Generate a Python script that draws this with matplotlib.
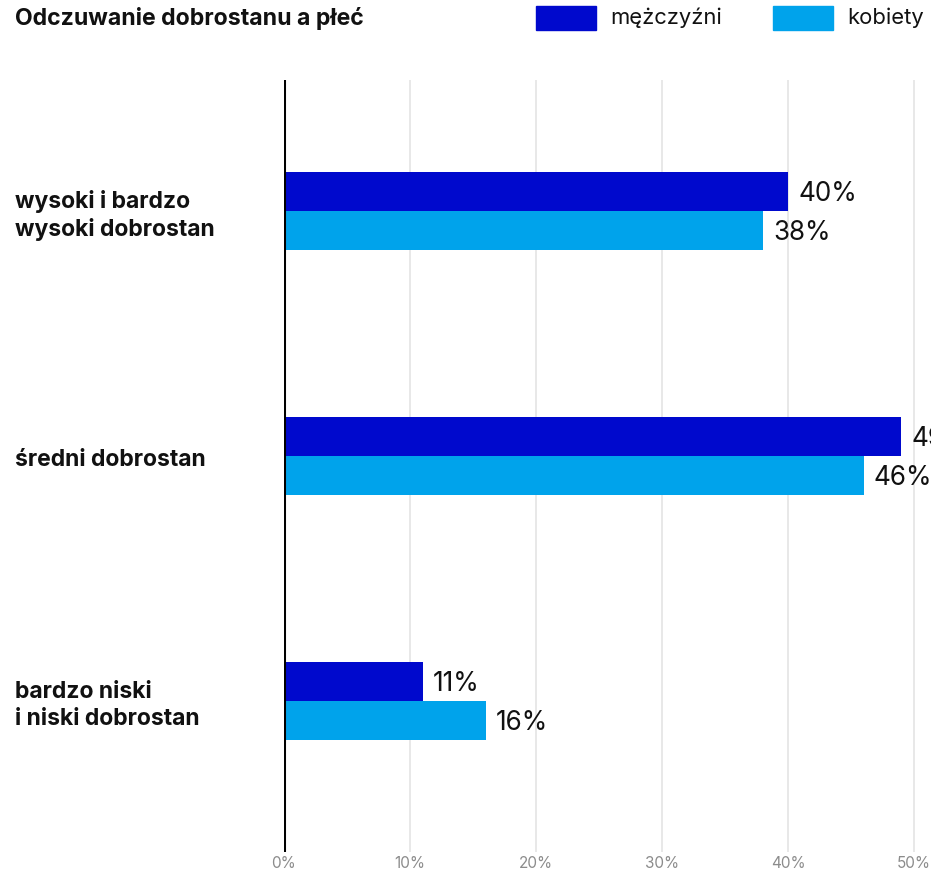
import numpy as np
import matplotlib.pyplot as plt
from matplotlib.patches import Rectangle
from matplotlib.transforms import blended_transform_factory, offset_copy

plt.rcParams['font.family'] = ['Inter', 'DejaVu Sans']

# data
categories = ["wysoki i bardzo\nwysoki dobrostan", "średni dobrostan", "bardzo niski\ni niski dobrostan"]
men = [40, 49, 11]
women = [38, 46, 16]
series_names = ["mężczyźni", "kobiety"]
ticks = [0, 10, 20, 30, 40, 50]

c_men = '#0009cd'
c_women = '#00a3eb'

W, H = 931, 872
fig = plt.figure(figsize=(W / 100, H / 100), dpi=100)
ax = fig.add_axes([284 / W, 1 - 852 / H, 1 - 284 / W, (852 - 80) / H])

y = np.arange(len(categories))
h = 0.159
ax.barh(y - h / 2, men, height=h, color=c_men, zorder=2)
ax.barh(y + h / 2, women, height=h, color=c_women, zorder=2)

val_tr = offset_copy(ax.transData, fig=fig, x=0, y=-1.5, units='points')
for yi, v in zip(y - h / 2, men):
    ax.text(v + 0.8, yi, f"{v}%", va='center', ha='left', fontsize=18.8,
            color='#111111', transform=val_tr)
for yi, v in zip(y + h / 2, women):
    ax.text(v + 0.8, yi, f"{v}%", va='center', ha='left', fontsize=18.8,
            color='#111111', transform=val_tr)

ax.set_xlim(0, 647 / 12.6)
ax.set_ylim(2.616, -0.535)
ax.axvline(0, color='black', lw=2.2, zorder=3)

ax.set_xticks(ticks)
ax.set_xticklabels([f"{t}%" for t in ticks])
ax.tick_params(axis='x', length=0, pad=3, labelsize=11, labelcolor='#8c8c8c')
ax.set_yticks([])
ax.grid(axis='x', color='#e6e6e6', lw=1.3, zorder=0)
for s in ax.spines.values():
    s.set_visible(False)

# category labels
tr = offset_copy(blended_transform_factory(fig.transFigure, ax.transData),
                 fig=fig, x=0, y=-3, units='points')
for yi, lab in zip(y, categories):
    ax.text(15 / W, yi, lab, transform=tr, ha='left', va='center',
            fontsize=16.5, fontweight='bold', color='#111111', linespacing=1.3)

# title
fig.text(15 / W, 1 - 19 / H, "Odczuwanie dobrostanu a płeć", ha='left', va='center',
         fontsize=16.6, fontweight='bold', color='#111111')

# legend
for x0, col, name in [(536, c_men, series_names[0]), (773, c_women, series_names[1])]:
    fig.patches.append(Rectangle((x0 / W, 1 - 30 / H), 60 / W, 24 / H,
                                 transform=fig.transFigure, color=col))
    fig.text((x0 + 74) / W, 1 - 18 / H, name, ha='left', va='center',
             fontsize=15.8, color='#111111')

plt.savefig("out.png", dpi=100)
